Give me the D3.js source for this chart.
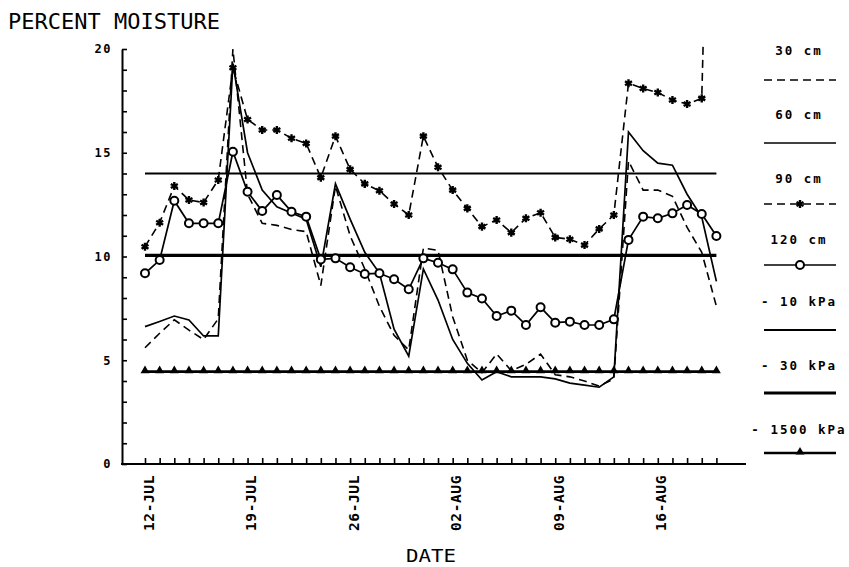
<!DOCTYPE html>
<html><head><meta charset="utf-8">
<script src="https://cdn.jsdelivr.net/npm/d3@7"></script>
<style>
body{margin:0;background:#fff;}
svg{display:block;}
</style></head>
<body>
<svg id="c" width="849" height="567"></svg>
<script>
// ---- data ----
const startDate = new Date(1984, 6, 12);
const endDate = new Date(1984, 7, 20);
const dates = d3.timeDay.range(startDate, d3.timeDay.offset(endDate, 1));

const cm30 = [5.6,6.3,6.95,6.45,6.0,7.0,20.0,13.0,11.6,11.5,11.3,11.2,8.6,13.4,11.0,9.4,7.6,6.2,5.5,10.4,10.3,7.1,5.0,4.4,5.3,4.5,4.8,5.3,4.3,4.2,4.0,3.75,4.1,14.6,13.2,13.2,12.9,11.4,10.2,7.6];
const cm60 = [6.62,6.87,7.13,6.94,6.17,6.17,19.3,15.0,13.2,12.4,12.1,11.8,9.5,13.5,11.8,10.2,9.2,6.5,5.2,9.4,7.9,6.0,4.85,4.05,4.45,4.2,4.2,4.2,4.1,3.9,3.8,3.7,4.2,16.0,15.1,14.5,14.4,13.0,11.9,8.8];
const cm90 = [10.47,11.63,13.4,12.72,12.6,13.69,19.1,16.6,16.1,16.1,15.7,15.45,13.8,15.8,14.2,13.5,13.17,12.53,12.0,15.8,14.3,13.2,12.32,11.44,11.76,11.15,11.84,12.11,10.92,10.83,10.55,11.33,12.0,18.35,18.1,17.9,17.54,17.35,17.62,45];
const cm120 = [9.19,9.83,12.69,11.6,11.6,11.6,15.05,13.12,12.19,12.96,12.16,11.92,9.86,9.91,9.48,9.16,9.19,8.9,8.42,9.91,9.7,9.38,8.26,7.98,7.13,7.39,6.7,7.55,6.81,6.86,6.7,6.7,6.97,10.8,11.92,11.84,12.08,12.48,12.05,10.99];
const kPa10 = 14.0;
const kPa30 = 10.05;
const kPa1500 = 4.45;

const tickDates = [new Date(1984,6,12), new Date(1984,6,19), new Date(1984,6,26), new Date(1984,7,2), new Date(1984,7,9), new Date(1984,7,16)];
const tickLabels = ["12-JUL","19-JUL","26-JUL","02-AUG","09-AUG","16-AUG"];
const legendLabels = ["30 cm","60 cm","90 cm","120 cm","- 10 kPa","- 30 kPa","- 1500 kPa"];

// ---- drawing ----
const svg = d3.select("#c");
const x = d3.scaleTime().domain([startDate, endDate]).range([145, 716.4]);
const y = d3.scaleLinear().domain([0, 20]).range([464, 49]);
const mono = "'DejaVu Sans Mono', monospace";

// title
svg.append("text").attr("x", 8).attr("y", 29).attr("font-family", mono).attr("font-size", 21)
  .attr("textLength", 212).attr("lengthAdjust","spacingAndGlyphs").text("PERCENT MOISTURE");

// y axis
const yAxis = d3.axisLeft(y).ticks(20).tickSizeInner(-5).tickSizeOuter(0).tickPadding(10)
  .tickFormat(d => d % 5 === 0 ? d : "");
const gy = svg.append("g").attr("transform", "translate(122,0)").call(yAxis);
gy.select(".domain").attr("stroke-width", 2);
gy.selectAll(".tick line").attr("stroke-width", 1.6);
gy.selectAll("text").attr("font-family", mono).attr("font-weight", "bold").attr("font-size", 12).attr("letter-spacing", 1.5);

// x axis
svg.append("line").attr("x1", 121).attr("x2", 746).attr("y1", y(0)).attr("y2", y(0)).attr("stroke", "#000").attr("stroke-width", 2);
const xAxis = d3.axisBottom(x).tickValues(dates).tickSizeInner(-6).tickSizeOuter(0).tickPadding(11)
  .tickFormat(d => { const k = tickDates.findIndex(t => +t === +d); return k >= 0 ? tickLabels[k] : ""; });
const gx = svg.append("g").attr("transform", `translate(0,${y(0)})`).call(xAxis);
gx.select(".domain").remove();
gx.selectAll(".tick line").attr("stroke-width", 1.6);
gx.selectAll("text").attr("font-family", mono).attr("font-weight", "bold").attr("font-size", 14.5)
  .attr("transform", "rotate(-90)").attr("text-anchor", "end").attr("x", -11).attr("y", 3).attr("dy", "0.35em")
  .attr("letter-spacing", 0.6);

svg.append("text").attr("x", 431).attr("y", 562).attr("text-anchor", "middle").attr("font-family", mono)
  .attr("font-size", 18).attr("textLength", 50).attr("lengthAdjust","spacingAndGlyphs").text("DATE");

// clip
svg.append("defs").append("clipPath").attr("id", "clip").append("rect")
  .attr("x", 100).attr("y", y(20.2)).attr("width", 700).attr("height", y(0) - y(20.2) + 20);
const plot = svg.append("g").attr("clip-path", "url(#clip)");

// reference lines
const x0 = x(startDate), x1 = x(endDate);
plot.append("line").attr("x1", x0).attr("x2", x1).attr("y1", y(kPa10)).attr("y2", y(kPa10)).attr("stroke", "#000").attr("stroke-width", 1.8);
plot.append("line").attr("x1", x0).attr("x2", x1).attr("y1", y(kPa30)).attr("y2", y(kPa30)).attr("stroke", "#000").attr("stroke-width", 3.2);
plot.append("line").attr("x1", x0).attr("x2", x1).attr("y1", y(kPa1500)).attr("y2", y(kPa1500)).attr("stroke", "#000").attr("stroke-width", 2.6);
plot.selectAll(".tri").data(dates).join("path").attr("class","tri")
  .attr("d", d3.symbol(d3.symbolTriangle, 34)).attr("transform", d => `translate(${x(d)},${y(kPa1500) - 1})`).attr("fill", "#000");

const line = d3.line().x((d, i) => x(dates[i])).y(d => y(d));
plot.append("path").datum(cm30).attr("d", line).attr("fill", "none").attr("stroke", "#000").attr("stroke-width", 1.6).attr("stroke-dasharray", "8,5");
plot.append("path").datum(cm60).attr("d", line).attr("fill", "none").attr("stroke", "#000").attr("stroke-width", 1.7);
plot.append("path").datum(cm90).attr("d", line).attr("fill", "none").attr("stroke", "#000").attr("stroke-width", 1.6).attr("stroke-dasharray", "8,5");
plot.append("path").datum(cm120).attr("d", line).attr("fill", "none").attr("stroke", "#000").attr("stroke-width", 1.7);

plot.selectAll(".ast").data(cm90).join("path").attr("class","ast")
  .attr("d", d3.symbol(d3.symbolAsterisk, 45)).attr("transform", (d, i) => `translate(${x(dates[i])},${y(d)})`)
  .attr("fill", "none").attr("stroke", "#000").attr("stroke-width", 2.4);
plot.selectAll(".circ").data(cm120).join("circle").attr("class","circ")
  .attr("cx", (d, i) => x(dates[i])).attr("cy", d => y(d)).attr("r", 4)
  .attr("fill", "#fff").attr("stroke", "#000").attr("stroke-width", 2);

// legend
const legTextY = [55, 119, 183, 244, 306, 370, 434];
const legLineY = [80, 143, 204, 265, 330, 393, 453];
const lg = svg.append("g");
legendLabels.forEach((lab, k) => {
  lg.append("text").attr("x", 799).attr("y", legTextY[k]).attr("text-anchor", "middle")
    .attr("font-family", mono).attr("font-weight", "bold").attr("font-size", 12.5).attr("letter-spacing", 2).text(lab);
  const sw = [1.6, 1.6, 1.6, 1.6, 1.8, 3, 2.6][k];
  const ln = lg.append("line").attr("x1", 764).attr("x2", 836).attr("y1", legLineY[k]).attr("y2", legLineY[k])
    .attr("stroke", "#000").attr("stroke-width", sw);
  if (k === 0 || k === 2) ln.attr("stroke-dasharray", "8,5");
  if (k === 2) lg.append("path").attr("d", d3.symbol(d3.symbolAsterisk, 45)).attr("transform", `translate(800,${legLineY[k]})`).attr("fill","none").attr("stroke","#000").attr("stroke-width",2.4);
  if (k === 3) lg.append("circle").attr("cx", 800).attr("cy", legLineY[k]).attr("r", 4).attr("fill","#fff").attr("stroke","#000").attr("stroke-width",2);
  if (k === 6) lg.append("path").attr("d", d3.symbol(d3.symbolTriangle, 34)).attr("transform", `translate(800,${legLineY[k]-1})`).attr("fill","#000");
});
</script>
</body></html>
